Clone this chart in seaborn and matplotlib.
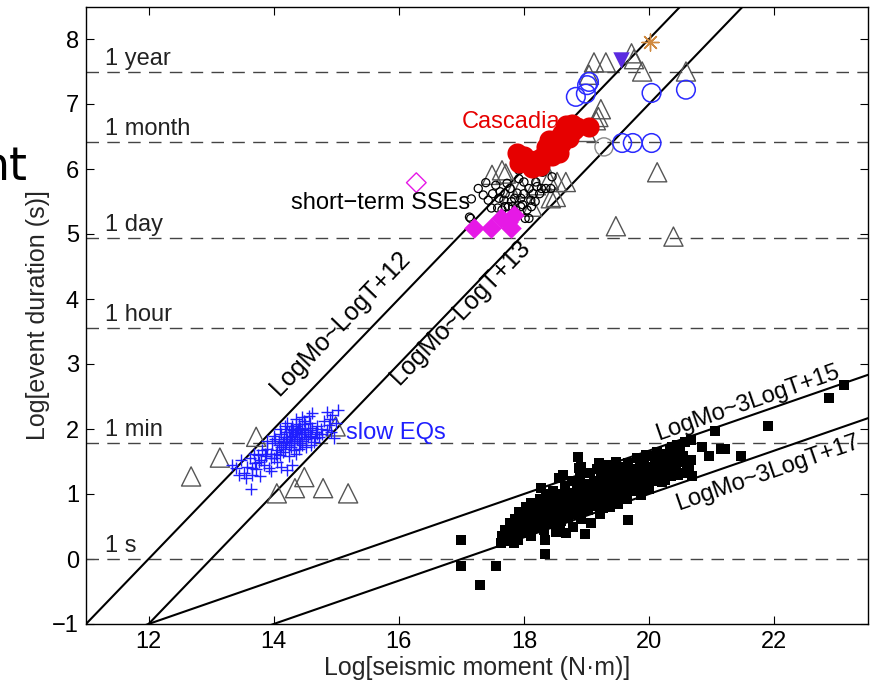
import numpy as np
import pandas as pd
import matplotlib
matplotlib.use("Agg")
import matplotlib.pyplot as plt
import seaborn as sns

# ---------------- data ----------------
# regular earthquakes (black squares)
eq_x = [16.99, 16.99, 17.29, 17.55, 18.34, 18.97, 19.67, 18.87, 22.88, 23.11, 21.90, 21.06, 21.47, 21.15, 21.22,
        20.96, 20.67, 20.69, 20.67, 20.85, 20.64, 17.63, 17.84, 17.92, 18.11, 18.56, 18.91, 19.20, 19.47, 19.95,
        20.37, 18.67, 18.51,
        17.65, 17.70, 17.72, 17.78, 17.80, 17.85, 17.88, 17.90,
        17.95, 17.98, 18.00, 18.03, 18.05, 18.08, 18.10, 18.12, 18.15, 18.18, 18.20,
        18.22, 18.25, 18.27, 18.30, 18.32, 18.35, 18.37, 18.40, 18.42, 18.45, 18.47, 18.50, 18.48, 18.33, 18.28,
        18.52, 18.55, 18.57, 18.60, 18.62, 18.65, 18.67, 18.70, 18.72, 18.75, 18.77, 18.80, 18.78, 18.63, 18.58,
        18.82, 18.85, 18.87, 18.90, 18.92, 18.95, 18.97, 19.00, 19.02, 19.05, 19.07, 19.10, 19.08, 18.88,
        19.12, 19.15, 19.17, 19.20, 19.22, 19.25, 19.27, 19.30, 19.32, 19.35, 19.37, 19.40, 19.38,
        19.42, 19.45, 19.47, 19.50, 19.52, 19.55, 19.57, 19.60, 19.62, 19.65, 19.67, 19.70,
        19.72, 19.75, 19.77, 19.80, 19.82, 19.85, 19.87, 19.90, 19.92, 19.95, 19.97, 20.00,
        20.03, 20.05, 20.08, 20.10, 20.12, 20.15, 20.18, 20.20, 20.22, 20.25, 20.28, 20.30, 20.33, 20.35, 20.38, 20.40,
        20.43, 20.45, 20.48, 20.50, 20.52, 20.55, 20.58, 20.60,
        18.38, 18.44, 18.53, 18.61, 18.68, 18.74, 18.83, 18.91, 18.98, 19.03, 19.13, 19.18, 19.23, 19.28, 19.33,
        19.43, 19.48, 19.53, 19.58, 19.63, 19.73, 19.78, 19.88, 19.93, 18.18, 18.23, 18.13, 18.07, 17.93, 17.83,
        18.02, 18.26, 18.41, 18.54, 18.69, 18.86, 19.06, 19.26, 19.46, 19.66, 19.86, 20.06, 20.26, 20.46]
eq_y = [0.29, -0.10, -0.40, -0.10, 0.07, 0.38, 0.60, 1.57, 2.47, 2.68, 2.04, 1.97, 1.59, 1.70, 1.69,
        1.59, 1.52, 1.27, 1.83, 1.72, 1.37, 0.24, 0.24, 0.73, 0.86, 1.24, 1.42, 1.47, 1.50, 1.60,
        1.73, 0.40, 0.42,
        0.35, 0.45, 0.28, 0.55, 0.38, 0.62, 0.45, 0.30,
        0.55, 0.68, 0.42, 0.80, 0.60, 0.50, 0.72, 0.35, 0.62, 0.85, 0.48,
        0.70, 0.92, 0.58, 0.80, 0.45, 1.00, 0.68, 0.88, 0.55, 0.75, 1.05, 0.62, 0.95, 0.30, 1.10,
        0.85, 0.70, 1.00, 0.58, 0.92, 1.12, 0.78, 0.65, 1.02, 0.88, 1.20, 0.72, 0.50, 1.30, 0.48,
        0.95, 1.10, 0.80, 1.25, 0.62, 1.00, 0.88, 1.15, 0.75, 1.32, 0.95, 1.05, 0.55, 1.40,
        1.20, 0.85, 1.38, 1.00, 0.70, 1.12, 1.25, 0.92, 1.45, 1.05, 0.80, 1.18, 1.30,
        0.98, 1.35, 1.10, 0.85, 1.22, 1.42, 1.00, 1.30, 1.15, 0.92, 1.48, 1.20,
        1.05, 1.38, 1.25, 1.55, 1.12, 1.40, 0.98, 1.30, 1.50, 1.20, 1.42, 1.08,
        1.35, 1.58, 1.25, 1.45, 1.65, 1.30, 1.52, 1.18, 1.40, 1.62, 1.35, 1.50, 1.70, 1.28, 1.45, 1.60,
        1.38, 1.75, 1.50, 1.65, 1.32, 1.58, 1.80, 1.45,
        0.75, 0.65, 0.98, 0.82, 0.95, 0.75, 1.02, 0.90, 1.08, 0.98, 1.10, 0.95, 1.30, 1.05, 1.20,
        1.25, 1.00, 1.12, 1.25, 1.38, 1.30, 1.10, 1.20, 1.35, 0.58, 0.80, 0.75, 0.40, 0.50, 0.52,
        0.62, 0.50, 0.98, 0.68, 0.85, 0.70, 0.82, 0.78, 0.95, 1.05, 1.10, 1.20, 1.22, 1.30]

# slow earthquakes (blue crosses)
slow_x = [13.63, 13.33, 13.44, 13.40, 13.52, 13.48, 13.58, 13.55, 13.65, 13.62, 13.70, 13.72, 13.75, 13.78, 13.80,
          13.68, 13.85, 13.88, 13.82, 13.90, 13.92, 13.95, 13.98, 14.00, 14.02, 14.05, 14.08, 14.10, 14.12, 14.15,
          14.18, 14.20, 14.22, 14.25, 14.28, 14.30, 14.32, 14.35, 14.38, 14.40, 14.42, 14.45, 14.48, 14.50, 14.52,
          14.55, 14.58, 14.60, 14.62, 14.65, 14.68, 14.70, 14.72, 14.75, 14.78, 14.80, 14.85, 14.88, 14.92, 14.96,
          14.93, 15.03, 14.56, 14.62, 14.85, 14.90, 15.00, 14.21, 14.30, 14.12, 13.95, 14.05, 14.35, 14.25, 14.15,
          14.40, 14.45, 14.28, 14.18, 14.10, 14.00, 13.90, 14.22, 14.35, 14.40, 14.48, 14.26, 14.33, 14.38, 14.44,
          14.36, 14.30, 14.42, 14.50, 14.55, 14.46, 14.24, 14.16, 14.08, 14.32, 14.20, 14.12, 14.04, 13.96, 13.86,
          13.76, 13.66, 14.60, 14.66, 14.52, 14.58, 14.70, 14.45, 14.27, 14.34, 14.39, 14.31]
slow_y = [1.07, 1.45, 1.29, 1.40, 1.33, 1.52, 1.42, 1.25, 1.30, 1.55, 1.48, 1.38, 1.60, 1.28, 1.52,
          1.62, 1.45, 1.58, 1.68, 1.70, 1.40, 1.62, 1.78, 1.55, 1.85, 1.68, 1.75, 1.60, 1.92, 1.80,
          1.70, 1.95, 1.85, 1.75, 2.00, 1.90, 1.82, 2.05, 1.95, 1.88, 1.78, 2.00, 1.92, 2.08, 1.85,
          1.98, 2.10, 1.90, 2.02, 1.80, 1.95, 2.05, 1.88, 2.00, 1.92, 2.12, 1.98, 2.06, 1.96, 1.86,
          2.22, 2.29, 2.20, 2.24, 2.26, 2.15, 2.10, 1.37, 1.45, 1.42, 1.35, 1.50, 1.62, 1.58, 1.65,
          1.70, 1.75, 1.72, 2.05, 2.00, 1.90, 1.82, 2.10, 2.15, 2.08, 2.12, 1.88, 1.78, 1.85, 1.92,
          1.98, 2.05, 2.02, 1.95, 1.88, 1.82, 1.95, 1.88, 1.82, 1.68, 1.78, 1.72, 1.62, 1.55, 1.62,
          1.50, 1.40, 1.76, 1.86, 1.72, 1.98, 1.92, 2.18, 1.82, 1.92, 2.00, 1.98]

# other slow events (gray open triangles)
tri_x = [12.68, 13.14, 13.72, 14.05, 14.34, 14.49, 14.79, 15.19, 14.99,
         19.12, 19.31, 19.72, 19.76, 19.89, 20.59, 19.04, 19.23, 19.19, 19.15, 18.99, 20.13, 19.47, 20.39,
         17.65, 17.71, 17.49, 18.29, 18.19, 18.24, 18.67, 18.53, 18.40, 18.43, 18.13, 17.81, 18.19, 18.51, 17.95]
tri_y = [1.27, 1.56, 1.88, 1.01, 1.09, 1.26, 1.09, 1.01, 2.04,
         7.64, 7.64, 7.78, 7.69, 7.50, 7.50, 7.45, 6.92, 6.80, 6.75, 6.57, 5.95, 5.12, 4.96,
         5.98, 5.93, 5.91, 6.09, 6.06, 6.11, 5.80, 5.80, 5.83, 5.55, 5.42, 5.63, 5.75, 5.57, 5.70]

# short-term SSEs (small open black circles)
sse_x = [17.27, 17.16, 17.13, 17.39, 17.43, 17.48, 17.55, 17.60, 17.68, 17.73, 17.80, 17.89, 17.95, 18.00, 18.08,
         18.11, 18.05, 18.08, 18.02, 18.19, 18.21, 18.25, 18.28, 18.35, 18.43, 18.45, 17.87, 17.65, 17.58, 17.75,
         17.92, 18.14, 17.15, 17.70, 17.85, 17.95, 18.00, 18.15, 17.62, 17.78, 17.92, 18.30, 17.50, 17.35, 17.98,
         18.12, 17.82, 17.70, 18.18]
sse_y = [5.70, 5.54, 5.26, 5.79, 5.52, 5.40, 5.75, 5.55, 5.52, 5.78, 5.50, 5.63, 5.42, 5.80, 5.70,
         5.52, 5.37, 5.24, 5.24, 5.80, 5.73, 5.62, 5.70, 5.70, 5.70, 5.88, 5.37, 5.37, 5.40, 5.42,
         5.98, 5.93, 5.24, 5.62, 5.55, 5.55, 5.62, 5.62, 5.65, 5.70, 5.85, 5.95, 5.62, 5.60, 5.45,
         5.42, 5.42, 5.42, 5.50]

gray_circ_x = [19.28]
gray_circ_y = [6.34]

# long-term SSEs (blue open circles)
lsse_x = [18.83, 18.99, 19.01, 19.04, 20.04, 20.59, 19.57, 19.74, 20.04]
lsse_y = [7.11, 7.16, 7.29, 7.34, 7.17, 7.22, 6.40, 6.40, 6.40]

# Cascadia (red filled circles)
casc_x = [17.89, 17.92, 18.05, 18.13, 18.19, 18.29, 18.40, 18.51, 18.56, 18.48, 18.61, 18.67, 18.77, 18.85,
          19.04, 18.72, 18.35, 18.60, 18.45, 18.25, 18.00, 18.80]
casc_y = [6.24, 6.09, 6.09, 6.01, 6.14, 6.19, 6.45, 6.32, 6.24, 6.45, 6.55, 6.68, 6.70, 6.65,
          6.65, 6.47, 6.34, 6.38, 6.20, 6.05, 6.20, 6.60]

# magenta diamonds
diam_x = [17.20, 17.48, 17.63, 17.79, 17.84, 17.75]
diam_y = [5.09, 5.10, 5.24, 5.09, 5.29, 5.18]
open_diam_x = [16.28]
open_diam_y = [5.79]

purple_x = [19.55]
purple_y = [7.67]
star_x = [20.02]
star_y = [7.96]

# scaling relations  LogMo ~ a*LogT + b
rel_slope = [1, 1, 3, 3]
rel_const = [12, 13, 15, 17]
rel_labels = ["LogMo~LogT+12", "LogMo~LogT+13", "LogMo~3LogT+15", "LogMo~3LogT+17"]
rel_label_pos = [(15.06, 3.62), (16.98, 3.80), (21.57, 2.40), (21.89, 1.32)]
rel_label_size = [18, 18, 17, 17]

# duration reference lines
dur_names = ["1 year", "1 month", "1 day", "1 hour", "1 min", "1 s"]
dur_logs = [7.50, 6.41, 4.94, 3.56, 1.78, 0.0]

x_ticks = [12, 14, 16, 18, 20, 22]
y_ticks = [-1, 0, 1, 2, 3, 4, 5, 6, 7, 8]

FS = 17

# ---------------- plot ----------------
sns.set_style("ticks")
plt.rcParams["font.family"] = ["Liberation Sans", "DejaVu Sans"]

fig = plt.figure(figsize=(8.81, 6.89), dpi=100)
ax = fig.add_axes([86 / 881, 1 - 624 / 689, (868 - 86) / 881, (624 - 6.5) / 689])
XL = (11, 23.5)
YL = (-1, 8.5)
ax.set_xlim(*XL)
ax.set_ylim(*YL)

# horizontal duration lines
for name, v in zip(dur_names, dur_logs):
    ax.axhline(v, color="#444444", lw=1.0, ls=(0, (9, 6)), zorder=1)
    ax.text(11.3, v + 0.03, name, fontsize=FS, color="#222222", ha="left", va="bottom", zorder=2)

# scaling lines
for a, b in zip(rel_slope, rel_const):
    xs = np.array([XL[0], XL[1]])
    ys = (xs - b) / a
    sns.lineplot(x=xs, y=ys, color="black", lw=1.5, ax=ax, zorder=3)


def scat(x, y, **kw):
    face = kw.pop("face", None)
    edge = kw.pop("edge", None)
    sns.scatterplot(x=x, y=y, ax=ax, legend=False, **kw)
    coll = ax.collections[-1]
    if face is not None:
        coll.set_facecolor(face)
    if edge is not None:
        coll.set_edgecolor(edge)
    return coll


scat(eq_x, eq_y, marker="s", color="black", s=55, linewidth=0, zorder=4)
scat(tri_x, tri_y, marker="^", s=190, linewidth=1.0, face="none", edge="#555555", zorder=5)
scat(slow_x, slow_y, marker="+", color="#1f1fff", s=75, linewidth=1.0, zorder=6)
scat(sse_x, sse_y, marker="o", s=34, linewidth=0.9, face="none", edge="black", zorder=6)
scat(gray_circ_x, gray_circ_y, marker="o", s=170, linewidth=1.0, face="none", edge="#888888", zorder=6)
scat(lsse_x, lsse_y, marker="o", s=180, linewidth=1.1, face="none", edge="#2a2aff", zorder=6)
scat(casc_x, casc_y, marker="o", color="#e60000", s=210, linewidth=0, zorder=7)
scat(diam_x, diam_y, marker="D", color="#e619e6", s=110, linewidth=0, zorder=7)
scat(open_diam_x, open_diam_y, marker="D", s=100, linewidth=1.0, face="none", edge="#e619e6", zorder=7)
scat(purple_x, purple_y, marker="v", color="#5b2be0", s=140, linewidth=0, zorder=7)
scat(star_x, star_y, marker=(8, 2, 0), color="#d08a40", s=150, linewidth=1.0, zorder=7)

# rotated relation labels
for (a, b), lab, (tx, ty), fsz in zip(zip(rel_slope, rel_const), rel_labels, rel_label_pos, rel_label_size):
    p1 = ax.transData.transform((15, (15 - b) / a))
    p2 = ax.transData.transform((16, (16 - b) / a))
    ang = np.degrees(np.arctan2(p2[1] - p1[1], p2[0] - p1[0]))
    ax.text(tx, ty, lab, rotation=ang, rotation_mode="anchor", ha="center", va="center",
            fontsize=fsz, color="black", zorder=8)

ax.text(17.0, 6.72, "Cascadia", color="#e60000", fontsize=FS, ha="left", va="center", zorder=8)
ax.text(14.28, 5.48, "short\u2212term SSEs", color="black", fontsize=FS, ha="left", va="center", zorder=8)
ax.text(15.15, 1.94, "slow EQs", color="#1f1fff", fontsize=FS, ha="left", va="center", zorder=8)

ax.set_xticks(x_ticks)
ax.set_yticks(y_ticks)
ax.set_yticklabels([("\u2212" + str(-t)) if t < 0 else str(t) for t in y_ticks])
ax.tick_params(direction="in", top=True, right=True, length=6, width=0.8, labelsize=FS, pad=5, colors="black")
for sp in ax.spines.values():
    sp.set_visible(True)
    sp.set_color("black")
    sp.set_linewidth(1.0)

ax.set_xlabel("Log[seismic moment (N\u00b7m)]", fontsize=FS + 1, labelpad=2)
ax.set_ylabel("Log[event duration (s)]", fontsize=FS + 1)
ax.yaxis.set_label_coords(-0.046, 0.5)

fig.text(28 / 881, 1 - 180 / 689, "nt", ha="right", va="baseline", fontsize=33,
         family=["DejaVu Sans"], color="black")

fig.savefig("out.png", dpi=100)
